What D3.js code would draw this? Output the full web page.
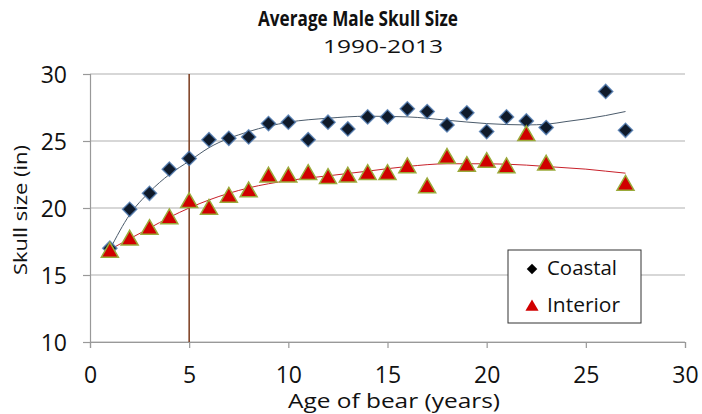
<!DOCTYPE html>
<html><head><meta charset="utf-8">
<script src="https://cdn.jsdelivr.net/npm/d3@7"></script>
<style>body{margin:0;background:#fff}svg{display:block}text{font-family:"Open Sans",sans-serif}</style>
</head><body><svg id="c" width="702" height="414"></svg>
<script>
const ages = [1,2,3,4,5,6,7,8,9,10,11,12,13,14,15,16,17,18,19,20,21,22,23,26,27];
const coastal = [17.0,19.9,21.1,22.9,23.7,25.1,25.2,25.3,26.3,26.4,25.1,26.4,25.9,26.8,26.8,27.4,27.2,26.2,27.1,25.7,26.8,26.5,26.0,28.7,25.8];
const interiorAges = [1,2,3,4,5,6,7,8,9,10,11,12,13,14,15,16,17,18,19,20,21,22,23,27];
const interior = [16.7,17.6,18.4,19.2,20.4,19.9,20.8,21.2,22.3,22.3,22.5,22.2,22.3,22.5,22.5,23.0,21.5,23.7,23.1,23.4,23.0,25.4,23.2,21.7];
// trendlines
const trendAges = [1,2,3,4,5,6,8,10,12,14,16,18,20,22,23,24,25,26,27];
const coastalTrend = [16.9,19.5,21.2,22.5,23.5,24.5,25.7,26.4,26.7,26.85,26.8,26.55,26.3,26.2,26.25,26.45,26.65,26.9,27.2];
const interiorTrend = [16.9,17.7,18.5,19.3,20.0,20.6,21.5,22.05,22.4,22.75,23.1,23.3,23.3,23.2,23.1,23.0,22.9,22.75,22.6];
const xTicks = [0,5,10,15,20,25,30];
const yTicks = [10,15,20,25,30];
const markerAge = 5;

const svg = d3.select("#c");
const x = d3.scaleLinear().domain([0,30]).range([90,685]);
const y = d3.scaleLinear().domain([10,30]).range([342,74]);

svg.append("g").selectAll("line").data(yTicks).join("line")
  .attr("x1",x(0)).attr("x2",x(30)).attr("y1",d=>y(d)).attr("y2",d=>y(d))
  .attr("stroke","#b0b0b0").attr("stroke-width",1.2);

const xAxis = svg.append("g").attr("transform",`translate(0,${y(10)})`)
  .call(d3.axisBottom(x).tickValues(xTicks).tickSize(6).tickPadding(6));
const yAxis = svg.append("g").attr("transform",`translate(${x(0)},0)`)
  .call(d3.axisLeft(y).tickValues(yTicks).tickSize(7).tickPadding(16));
[xAxis,yAxis].forEach(g=>{
  g.select(".domain").attr("stroke","#999").attr("stroke-width",1.2);
  g.selectAll(".tick line").attr("stroke","#999").attr("stroke-width",1.2);
  g.selectAll("text").attr("font-size",23).attr("fill","#111").attr("font-family","'Open Sans',sans-serif");
});
xAxis.selectAll("text").attr("dy",null).attr("y",41);
yAxis.selectAll("text").attr("dy",null).attr("y",8);

svg.append("line").attr("x1",x(markerAge)).attr("x2",x(markerAge)).attr("y1",y(30)).attr("y2",y(10))
  .attr("stroke","#7a3a1c").attr("stroke-width",1.5);

const line = d3.line().x(d=>x(d[0])).y(d=>y(d[1])).curve(d3.curveMonotoneX);
svg.append("path").attr("d",line(trendAges.map((a,i)=>[a,coastalTrend[i]]))).attr("fill","none").attr("stroke","#4b5b6b").attr("stroke-width",1);
svg.append("path").attr("d",line(trendAges.map((a,i)=>[a,interiorTrend[i]]))).attr("fill","none").attr("stroke","#c8202a").attr("stroke-width",1);

const diamond = d3.symbol().type(d3.symbolSquare).size(100);
const tri = d3.symbol().type(d3.symbolTriangle).size(125);
svg.append("g").selectAll("path").data(ages.map((a,i)=>[a,coastal[i]])).join("path")
  .attr("d",diamond).attr("transform",d=>`translate(${x(d[0])},${y(d[1])}) rotate(45)`)
  .attr("fill","#0f1a2a").attr("stroke","#4d79b0").attr("stroke-width",1.5).attr("stroke-opacity",0.8);
svg.append("g").selectAll("path").data(interiorAges.map((a,i)=>[a,interior[i]])).join("path")
  .attr("d",tri).attr("transform",d=>`translate(${x(d[0])},${y(d[1])})`)
  .attr("fill","#d10000").attr("stroke","#9aaa3a").attr("stroke-width",1.5);

function txt(t, xp, yp, size, len, opts={}){
  const e = svg.append("text").attr("x",xp).attr("y",yp).attr("font-size",size).attr("fill","#111")
    .attr("text-anchor",opts.anchor||"middle").text(t);
  if(len) e.attr("textLength",len).attr("lengthAdjust","spacingAndGlyphs");
  if(opts.bold) e.attr("font-weight","bold");
  if(opts.rot) e.attr("transform",`rotate(-90,${xp},${yp})`);
  return e;
}
txt("Average Male Skull Size", 358, 26, 21, 200, {bold:true});
txt("1990-2013", 383, 53, 19, 120);
txt("Age of bear (years)", 394, 408, 20, 212);
txt("Skull size (in)", 27, 210, 18, 130, {rot:true});

const lg = svg.append("g");
lg.append("rect").attr("x",508).attr("y",250).attr("width",133).attr("height",73).attr("fill","#fff").attr("stroke","#333").attr("stroke-width",1);
lg.append("path").attr("d",d3.symbol().type(d3.symbolSquare).size(55)).attr("transform","translate(532,269) rotate(45)").attr("fill","#000");
txt("Coastal", 547, 275, 20, 70, {anchor:"start"});
lg.append("path").attr("d",d3.symbol().type(d3.symbolTriangle).size(75)).attr("transform","translate(532,307)").attr("fill","#d10000");
txt("Interior", 547, 312, 20, 73, {anchor:"start"});
</script></body></html>
